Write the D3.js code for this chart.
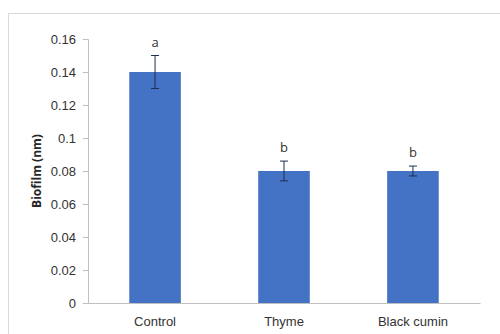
<!DOCTYPE html>
<html>
<head>
<meta charset="utf-8">
<script src="https://cdn.jsdelivr.net/npm/d3@7"></script>
<style>
  body { margin: 0; background: #fff; }
  svg { display: block; font-family: 'Open Sans', 'Liberation Sans', sans-serif; }
</style>
</head>
<body>
<svg id="chart" width="500" height="334"></svg>
<script>
// data
const categories = ['Control', 'Thyme', 'Black cumin'];
const biofilm = [0.14, 0.08, 0.08];
const errors = [0.01, 0.006, 0.003];
const letters = ['a', 'b', 'b'];
const yTicks = [0, 0.02, 0.04, 0.06, 0.08, 0.1, 0.12, 0.14, 0.16];

const barColor = '#4472c4';
const axisColor = '#bfbfbf';

const svg = d3.select('#chart');

// outer chart frame (cut off at right and bottom)
svg.append('rect')
  .attr('x', 8.5)
  .attr('y', 13.5)
  .attr('width', 520)
  .attr('height', 340)
  .attr('fill', '#fff')
  .attr('stroke', '#d9d9d9');

const margin = { top: 39, right: 20, bottom: 31, left: 88 };
const width = 480 - margin.left;
const height = 303 - margin.top;

const chart = svg.append('g')
  .attr('transform', `translate(${margin.left}, ${margin.top})`);

const x = d3.scaleBand()
  .domain(categories)
  .range([0, width])
  .paddingInner(0.6)
  .paddingOuter(0.32);

const y = d3.scaleLinear()
  .domain([0, 0.16])
  .range([height, 0]);

// y axis
const yAxis = chart.append('g')
  .call(d3.axisLeft(y)
    .tickValues(yTicks)
    .tickSize(5)
    .tickPadding(7)
    .tickFormat(d => (d === 0 ? '0' : d3.format('')(+d.toFixed(2)))));
yAxis.select('.domain').attr('stroke', axisColor);
yAxis.selectAll('.tick line').attr('stroke', axisColor);
yAxis.selectAll('.tick text')
  .attr('fill', '#333')
  .style('font-size', '13px');

// bars
chart.selectAll('.bar')
  .data(biofilm)
  .join('rect')
  .attr('class', 'bar')
  .attr('x', (d, i) => x(categories[i]))
  .attr('y', d => y(d))
  .attr('width', x.bandwidth())
  .attr('height', d => height - y(d))
  .attr('fill', barColor);

// x axis
const xAxis = chart.append('g')
  .attr('transform', `translate(0, ${height})`)
  .call(d3.axisBottom(x).tickSize(0).tickPadding(14));
xAxis.select('.domain').attr('stroke', axisColor);
xAxis.selectAll('.tick text')
  .attr('fill', '#333')
  .style('font-size', '13px');

// error bars
const capW = 4;
biofilm.forEach((v, i) => {
  const cx = x(categories[i]) + x.bandwidth() / 2;
  const g = chart.append('g')
    .attr('stroke', '#1f2f4f')
    .attr('stroke-width', 1);
  g.append('line')
    .attr('x1', cx).attr('x2', cx)
    .attr('y1', y(v + errors[i])).attr('y2', y(v - errors[i]));
  g.append('line')
    .attr('x1', cx - capW).attr('x2', cx + capW)
    .attr('y1', y(v + errors[i])).attr('y2', y(v + errors[i]));
  g.append('line')
    .attr('x1', cx - capW).attr('x2', cx + capW)
    .attr('y1', y(v - errors[i])).attr('y2', y(v - errors[i]));

  chart.append('text')
    .attr('x', cx)
    .attr('y', y(v + errors[i]) - 9)
    .attr('text-anchor', 'middle')
    .attr('fill', '#333')
    .style('font-size', '13px')
    .text(letters[i]);
});

// y label
svg.append('text')
  .attr('transform', `translate(41, ${margin.top + height / 2}) rotate(-90)`)
  .attr('text-anchor', 'middle')
  .attr('fill', '#262626')
  .style('font-size', '12px')
  .style('font-weight', 'bold')
  .text('Biofilm (nm)');
</script>
</body>
</html>
